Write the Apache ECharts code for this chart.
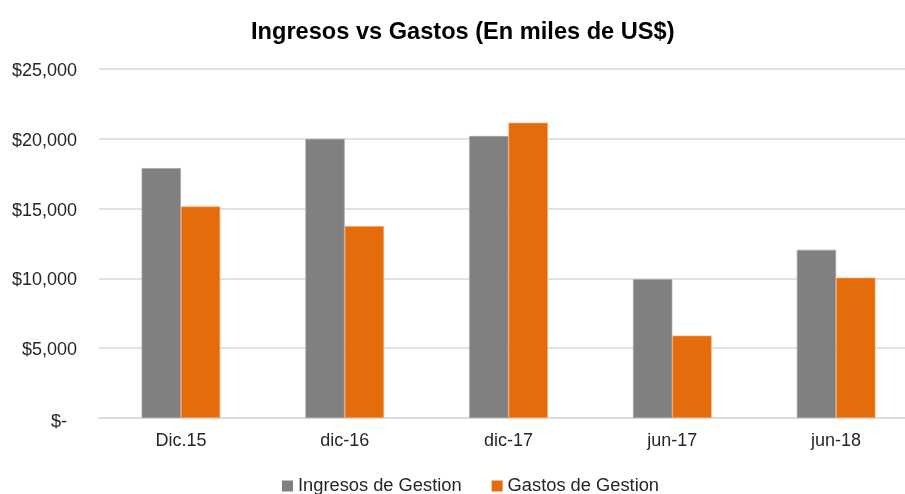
<!DOCTYPE html>
<html>
<head>
<meta charset="utf-8">
<script src="https://cdn.jsdelivr.net/npm/echarts@6/dist/echarts.min.js"></script>
<style>
  html, body { margin: 0; padding: 0; background: #fff; }
  #main { width: 905px; height: 494px; }
</style>
</head>
<body>
<div id="main"></div>
<script>
// datos
var categorias = ['Dic.15', 'dic-16', 'dic-17', 'jun-17', 'jun-18'];
var ingresos = [17900, 20000, 20200, 9950, 12050];
var gastos = [15150, 13750, 21150, 5900, 10050];
var nombres = ['Ingresos de Gestion', 'Gastos de Gestion'];

var myChart = echarts.init(document.getElementById('main'));
myChart.setOption({
  title: {
    text: 'Ingresos vs Gastos (En miles de US$)',
    left: 246,
    top: 15,
    textStyle: { fontFamily: 'Liberation Sans, Arial', fontSize: 23.6, fontWeight: 'bold', color: '#000' }
  },
  legend: {
    data: nombres,
    bottom: -6,
    left: 277,
    itemWidth: 11,
    itemHeight: 11,
    itemGap: 30,
    icon: 'rect',
    itemStyle: { borderWidth: 0 },
    textStyle: { fontFamily: 'Liberation Sans, Arial', fontSize: 18.3, color: '#262626' }
  },
  grid: { left: 99, top: 69, width: 819, height: 349, outerBoundsMode: 'none' },
  xAxis: {
    type: 'category',
    data: categorias,
    axisTick: { show: false },
    axisLine: { lineStyle: { color: '#d9d9d9', width: 1.5 } },
    axisLabel: { fontFamily: 'Liberation Sans, Arial', fontSize: 18, color: '#262626', margin: 14 }
  },
  yAxis: {
    type: 'value',
    min: 0,
    max: 25000,
    interval: 5000,
    axisLine: { show: false },
    axisTick: { show: false },
    splitLine: { lineStyle: { color: '#d9d9d9', width: 1.5 } },
    axisLabel: {
      fontFamily: 'Liberation Sans, Arial',
      fontSize: 18,
      color: '#262626',
      margin: 22,
      padding: [4, 0, 0, 0],
      formatter: function (v) {
        if (v === 0) return '{z|$-}';
        return '$' + v.toLocaleString('en-US');
      },
      rich: {
        z: { fontFamily: 'Liberation Sans, Arial', fontSize: 18, color: '#262626', padding: [4, 10, 0, 0] }
      }
    }
  },
  series: [
    {
      name: nombres[0],
      type: 'bar',
      data: ingresos,
      barGap: '0%',
      barCategoryGap: '52%',
      itemStyle: { color: '#808080', borderColor: '#a6a6a6', borderWidth: 0.7 }
    },
    {
      name: nombres[1],
      type: 'bar',
      data: gastos,
      itemStyle: { color: '#e46c0a', borderColor: '#f3a46a', borderWidth: 0.7 }
    }
  ]
});
</script>
</body>
</html>
